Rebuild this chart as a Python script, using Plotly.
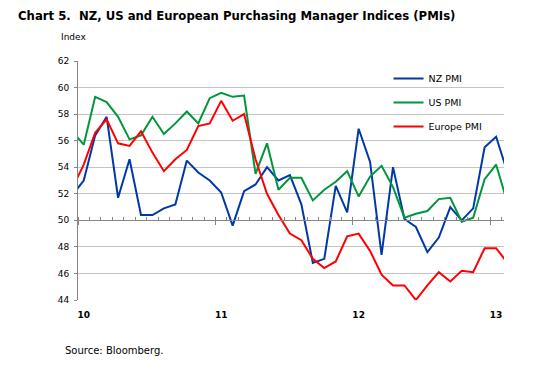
import plotly.graph_objects as go

# ---- data (monthly, Jan 2010 .. Mar 2013) ----
months = [
    "Jan-10", "Feb-10", "Mar-10", "Apr-10", "May-10", "Jun-10", "Jul-10", "Aug-10", "Sep-10", "Oct-10", "Nov-10", "Dec-10",
    "Jan-11", "Feb-11", "Mar-11", "Apr-11", "May-11", "Jun-11", "Jul-11", "Aug-11", "Sep-11", "Oct-11", "Nov-11", "Dec-11",
    "Jan-12", "Feb-12", "Mar-12", "Apr-12", "May-12", "Jun-12", "Jul-12", "Aug-12", "Sep-12", "Oct-12", "Nov-12", "Dec-12",
    "Jan-13", "Feb-13", "Mar-13",
]
nz_pmi = [
    51.9, 53.0, 56.4, 57.8, 51.7, 54.6, 50.4, 50.4, 50.9, 51.2, 54.5, 53.6,
    53.0, 52.1, 49.6, 52.2, 52.7, 54.0, 53.0, 53.4, 51.2, 46.8, 47.1, 52.6,
    50.6, 56.9, 54.4, 47.4, 54.0, 50.1, 49.5, 47.6, 48.7, 51.0, 50.0, 50.9,
    55.5, 56.3, 53.6,
]
us_pmi = [
    56.7, 55.7, 59.3, 58.9, 57.8, 56.1, 56.4, 57.8, 56.5, 57.3, 58.2, 57.3,
    59.2, 59.6, 59.3, 59.4, 53.5, 55.8, 52.3, 53.2, 53.2, 51.5, 52.3, 52.9,
    53.7, 51.8, 53.3, 54.1, 52.5, 50.2, 50.5, 50.7, 51.6, 51.7, 49.9, 50.2,
    53.1, 54.2, 51.3,
]
europe_pmi = [
    52.4, 54.2, 56.6, 57.6, 55.8, 55.6, 56.7, 55.1, 53.7, 54.6, 55.3, 57.1,
    57.3, 59.0, 57.5, 58.0, 54.6, 52.0, 50.4, 49.0, 48.5, 47.1, 46.4, 46.9,
    48.8, 49.0, 47.7, 45.9, 45.1, 45.1, 44.0, 45.1, 46.1, 45.4, 46.2, 46.1,
    47.9, 47.9, 46.8,
]
year_labels = ["10", "11", "12", "13"]
year_label_months = ["Feb-10", "Feb-11", "Feb-12", "Feb-13"]

series_names = ["NZ PMI", "US PMI", "Europe PMI"]
series_colors = ["#0038A8", "#00963C", "#FF0000"]
series_axes = ["x", "x", "x2"]  # x2 shares the same range; it carries the axis line at 50

x = list(range(len(months)))
label_pos = [months.index(m) for m in year_label_months]
X_RANGE = [0.5, 37.69]
AXIS_GREY = "#868686"
FONT = "DejaVu Sans"

fig = go.Figure()
for name, vals, color, xa in zip(series_names, [nz_pmi, us_pmi, europe_pmi], series_colors, series_axes):
    fig.add_trace(go.Scatter(
        x=x, y=vals, mode="lines", name=name, legendgroup=name, xaxis=xa, yaxis="y",
        line=dict(color=color, width=2), text=months,
        hovertemplate="%{text}: %{y}<extra>" + name + "</extra>",
    ))

W, H = 542, 362  # page body adds an 8px offset
fig.update_layout(
    width=W, height=H,
    margin=dict(l=70, r=45.7, t=53, b=70),
    paper_bgcolor="white", plot_bgcolor="white",
    font=dict(family=FONT, size=9, color="black"),
    title=dict(
        text="Chart 5.  NZ, US and European Purchasing Manager Indices (PMIs)",
        x=10 / W, xanchor="left", xref="container",
        y=1 - 7.5 / H, yanchor="middle", yref="container",
        font=dict(family=FONT, size=11.7, color="black", weight="bold"),
    ),
    showlegend=True,
    legend=dict(
        x=0.729, y=0.987, xanchor="left", yanchor="top",
        bgcolor="rgba(0,0,0,0)", font=dict(family=FONT, size=9.5, color="black"),
        tracegroupgap=5, itemwidth=30,
    ),
    xaxis=dict(
        range=X_RANGE, tickmode="array", tickvals=label_pos, ticktext=year_labels,
        ticks="", showline=False, showgrid=False, zeroline=False,
        tickfont=dict(family=FONT, size=9, color="black", weight="bold"),
        ticklabelstandoff=8,
    ),
    xaxis2=dict(
        overlaying="x", anchor="free", position=1 / 3, range=X_RANGE,
        tickmode="linear", tick0=0.5, dtick=12,
        ticks="outside", ticklen=4, tickcolor=AXIS_GREY, tickwidth=1,
        showticklabels=False, showline=True, linecolor=AXIS_GREY, linewidth=1,
        showgrid=False, zeroline=False,
        minor=dict(tick0=0.5, dtick=1, ticks="inside", ticklen=3, tickcolor=AXIS_GREY, showgrid=False),
    ),
    yaxis=dict(
        range=[44, 62], tickmode="linear", tick0=44, dtick=2,
        showgrid=True, gridcolor="#c4c4c4", gridwidth=1,
        showline=True, linecolor=AXIS_GREY, linewidth=1,
        ticks="outside", ticklen=3, tickcolor=AXIS_GREY,
        zeroline=False, tickfont=dict(family=FONT, size=9, color="black"),
        ticklabelstandoff=3,
    ),
    annotations=[
        dict(text="Index", xref="paper", yref="paper", x=(58.7 - 78) / 426.3, y=1 + (61 - 37.5) / 239,
             xanchor="left", yanchor="middle", showarrow=False, font=dict(family=FONT, size=9, color="black")),
        dict(text="Source: Bloomberg.", xref="paper", yref="paper", x=(63.3 - 78) / 426.3, y=(300 - 350.5) / 239,
             xanchor="left", yanchor="middle", showarrow=False, font=dict(family=FONT, size=10, color="black")),
    ],
)

fig.write_html("out.html")
